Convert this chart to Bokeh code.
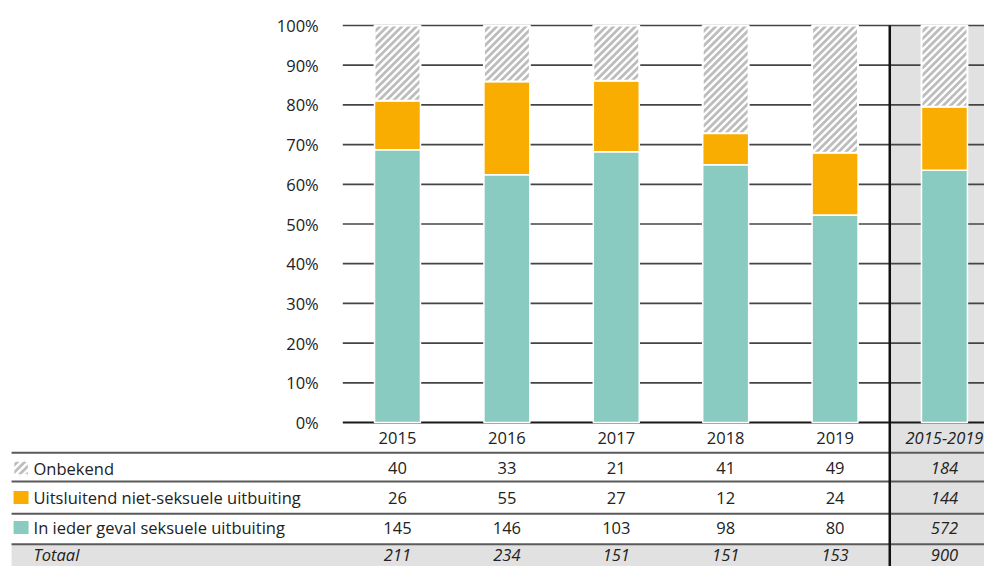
from bokeh.plotting import figure
from bokeh.core.properties import value
from bokeh.embed import file_html
from bokeh.resources import INLINE

# ---------------- data ----------------
categories = ["2015", "2016", "2017", "2018", "2019", "2015-2019"]
onbekend = [40, 33, 21, 41, 49, 184]
niet_seksueel = [26, 55, 27, 12, 24, 144]
seksueel = [145, 146, 103, 98, 80, 572]
totaal = [211, 234, 151, 151, 153, 900]
series_labels = ["Onbekend", "Uitsluitend niet-seksuele uitbuiting", "In ieder geval seksuele uitbuiting"]
total_label = "Totaal"
y_ticks = [0, 10, 20, 30, 40, 50, 60, 70, 80, 90, 100]

# ---------------- style ----------------
TEAL = "#89cbc0"
ORANGE = "#f9ad00"
HATCH = "#bdbdbd"
GREY_BG = "#e1e1e1"
TXT = "#222222"
FONT = value("Open Sans")
FS = value("16.5px")

W_PX, H_PX = 984, 566
X0, X1 = -3.629, 5.366
Y0, Y1 = -36.27, 106.3
KX = W_PX / (X1 - X0)   # px per x unit
KY = H_PX / (Y1 - Y0)   # px per y unit

xs = list(range(len(categories)))
last = xs[-1]

# shares (100% stacked)
s_seks = [100.0 * a / t for a, t in zip(seksueel, totaal)]
s_niet = [100.0 * a / t for a, t in zip(niet_seksueel, totaal)]
s_onb = [100.0 * a / t for a, t in zip(onbekend, totaal)]
b0 = [0.0] * len(xs)
t0 = s_seks
t1 = [a + b for a, b in zip(t0, s_niet)]
t2 = [a + b for a, b in zip(t1, s_onb)]

p = figure(width=W_PX, height=H_PX, x_range=(X0, X1), y_range=(Y0, Y1),
           output_backend="svg", toolbar_location=None, min_border=0)
p.axis.visible = False
p.grid.visible = False
p.outline_line_color = None
p.background_fill_color = "white"
p.border_fill_color = "white"

# table layout (data units)
line_rows = [-7.63, -14.86, -23.0, -30.65]
text_rows = [-11.46, -18.9, -26.45]
header_y = -3.78
total_y = -33.35
table_left = -3.528
label_x = -3.327
swatch_x = -3.441
tick_x = -0.72


def stripes(xa, xb, ya, yb, period=7.3):
    """45deg '/' stripes clipped to a rectangle given in data units."""
    u0, u1 = (xa - X0) * KX, (xb - X0) * KX
    v0, v1 = (ya - Y0) * KY, (yb - Y0) * KY
    out_x, out_y = [], []
    k = int((v0 - u1) // period) - 1
    while k * period <= v1 - u0 + period:
        c = k * period
        a, b = max(u0, v0 - c), min(u1, v1 - c)
        if b > a:
            out_x.append([a / KX + X0, b / KX + X0])
            out_y.append([(a + c) / KY + Y0, (b + c) / KY + Y0])
        k += 1
    return out_x, out_y


# backgrounds
p.quad(left=[table_left], right=[last + 0.5], top=[line_rows[-1]], bottom=[Y0],
       fill_color=GREY_BG, line_color=None)
p.quad(left=[last - 0.5], right=[last + 0.5], top=[100], bottom=[Y0],
       fill_color=GREY_BG, line_color=None)

# grid lines
gl = [t for t in y_ticks if t > 0]
p.segment(x0=[-0.5] * len(gl), x1=[last + 0.5] * len(gl), y0=gl, y1=gl,
          line_color="#444444", line_width=1.7)
p.segment(x0=[-0.5], x1=[last + 0.5], y0=[0], y1=[0], line_color="#1a1a1a", line_width=2)

# table row lines
p.segment(x0=[table_left] * len(line_rows), x1=[last + 0.5] * len(line_rows),
          y0=line_rows, y1=line_rows, line_color="#5a5a5a", line_width=2)

# bars
W = 0.42
p.vbar(x=xs, width=W, bottom=b0, top=t0, fill_color=TEAL, line_color="white", line_width=1.5)
p.vbar(x=xs, width=W, bottom=t0, top=t1, fill_color=ORANGE, line_color="white", line_width=1.5)
p.vbar(x=xs, width=W, bottom=t1, top=t2, fill_color="white", line_color=None)
hx, hy = [], []
for x, lo, hi in zip(xs, t1, t2):
    sx, sy = stripes(x - W / 2, x + W / 2, lo, hi)
    hx += sx
    hy += sy
p.multi_line(xs=hx, ys=hy, line_color=HATCH, line_width=2.8)
p.vbar(x=xs, width=W, bottom=t1, top=t2, fill_color=None, line_color="white", line_width=2)

# vertical separator
p.segment(x0=[last - 0.5], x1=[last - 0.5], y0=[100], y1=[Y0], line_color="#111111", line_width=2.5)

# y tick labels
p.text(x=[tick_x] * len(y_ticks), y=y_ticks, text=[f"{t}%" for t in y_ticks],
       text_align="right", text_baseline="middle", text_font=FONT, text_font_size=FS,
       text_color=TXT)

# header row
p.text(x=xs[:-1], y=[header_y] * (len(xs) - 1), text=categories[:-1], text_align="center",
       text_baseline="middle", text_font=FONT, text_font_size=FS, text_color=TXT)
p.text(x=[last], y=[header_y], text=[categories[-1]], text_align="center",
       text_baseline="middle", text_font=FONT, text_font_size=FS, text_color=TXT,
       text_font_style="italic")

# series rows
rows = [onbekend, niet_seksueel, seksueel]
for vals, ry in zip(rows, text_rows):
    p.text(x=xs[:-1], y=[ry] * (len(xs) - 1), text=[str(v) for v in vals[:-1]],
           text_align="center", text_baseline="middle", text_font=FONT,
           text_font_size=FS, text_color=TXT)
    p.text(x=[last], y=[ry], text=[str(vals[-1])], text_align="center", text_baseline="middle",
           text_font=FONT, text_font_size=FS, text_color=TXT, text_font_style="italic")

# total row
p.text(x=xs, y=[total_y] * len(xs), text=[str(v) for v in totaal], text_align="center",
       text_baseline="middle", text_font=FONT, text_font_size=FS, text_color=TXT,
       text_font_style="italic")

# row labels
p.text(x=[label_x] * 3, y=text_rows, text=series_labels, text_align="left",
       text_baseline="middle", text_font=FONT, text_font_size=FS, text_color=TXT)
p.text(x=[label_x], y=[total_y], text=[total_label], text_align="left",
       text_baseline="middle", text_font=FONT, text_font_size=FS, text_color=TXT,
       text_font_style="italic")

# legend swatches
sw, sh = 15 / KX, 14 / KY
p.rect(x=[swatch_x], y=[text_rows[0]], width=sw, height=sh, fill_color="white", line_color=None)
lx, ly = stripes(swatch_x - sw / 2, swatch_x + sw / 2, text_rows[0] - sh / 2, text_rows[0] + sh / 2)
p.multi_line(xs=lx, ys=ly, line_color=HATCH, line_width=2.8)
p.rect(x=[swatch_x], y=[text_rows[0]], width=sw, height=sh, fill_color=None,
       line_color="white", line_width=1.5)
p.rect(x=[swatch_x, swatch_x], y=text_rows[1:], width=sw, height=13 / KY,
       fill_color=[ORANGE, TEAL], line_color=None)

open("out.html", "w").write(file_html(p, INLINE))
